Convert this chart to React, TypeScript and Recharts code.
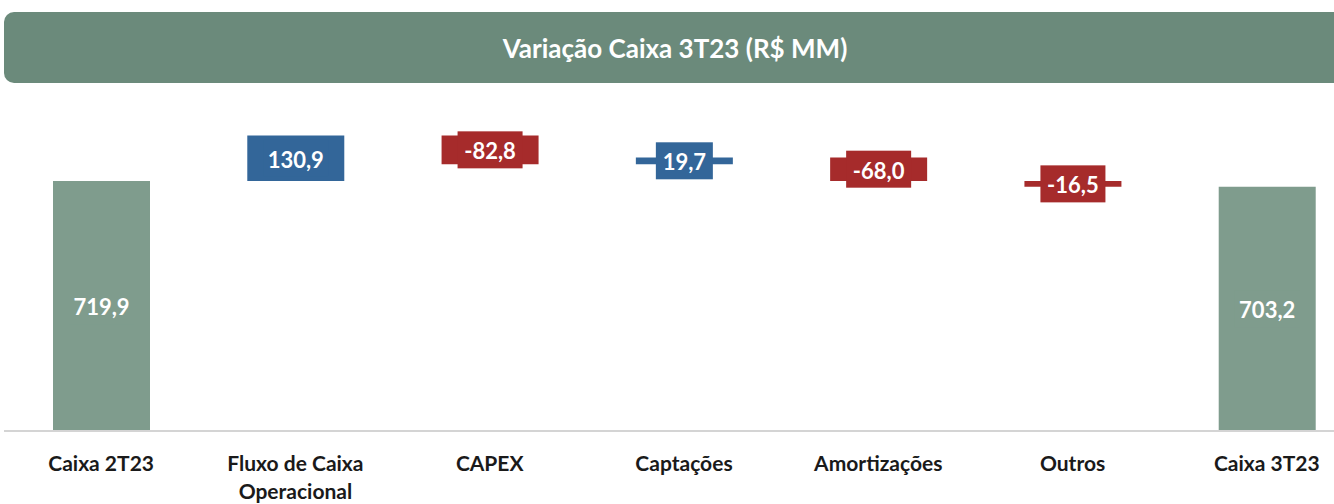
import { BarChart, Bar, XAxis, YAxis, Cell, LabelList } from 'recharts'

const categories = [
  'Caixa 2T23',
  'Fluxo de Caixa\nOperacional',
  'CAPEX',
  'Captações',
  'Amortizações',
  'Outros',
  'Caixa 3T23',
]
const values = [719.9, 130.9, -82.8, 19.7, -68.0, -16.5, 703.2]
const isTotal = [true, false, false, false, false, false, true]

const GREEN = '#7f9c8d'
const BLUE = '#336699'
const RED = '#a62b2b'
const FONT = 'Lato, "Open Sans", sans-serif'

let running = 0
const data = categories.map((name, i) => {
  const v = values[i]
  let range: [number, number]
  if (isTotal[i]) {
    range = [0, v]
    running = v
  } else {
    const next = running + v
    range = [Math.min(running, next), Math.max(running, next)]
    running = next
  }
  const color = isTotal[i] ? GREEN : v >= 0 ? BLUE : RED
  return { name, value: v, range, color }
})

const fmt = (v: number) => v.toFixed(1).replace('.', ',')

const ValueLabel = (props: any) => {
  const { x, y, width, height, index } = props
  const d = data[index]
  const top = Math.min(y, y + height)
  const cy = top + Math.abs(height) / 2
  const cx = x + width / 2
  const txt = fmt(d.value)
  const bw = 25 + 8 * txt.length
  const bh = 37
  return (
    <g>
      <rect x={cx - bw / 2} y={cy - bh / 2} width={bw} height={bh} fill={d.color} />
      <text
        x={cx}
        y={cy + 1}
        textAnchor="middle"
        dominantBaseline="central"
        fill="#ffffff"
        fontFamily={FONT}
        fontWeight={700}
        fontSize={22}
      >
        {txt}
      </text>
    </g>
  )
}

const CategoryTick = (props: any) => {
  const { x, y, payload } = props
  const lines = String(payload.value).split('\n')
  return (
    <g>
      {lines.map((ln, i) => (
        <text
          key={i}
          x={x}
          y={y + 32 + i * 28}
          textAnchor="middle"
          fill="#1a1a1a"
          fontFamily={FONT}
          fontWeight={700}
          fontSize={21}
        >
          {ln}
        </text>
      ))}
    </g>
  )
}

export default function App() {
  return (
    <div
      style={{
        position: 'fixed',
        left: 0,
        top: 0,
        width: 1334,
        height: 504,
        overflow: 'hidden',
        background: '#ffffff',
      }}
    >
      <div
        style={{
          position: 'absolute',
          left: 4,
          top: 12,
          width: 1342,
          height: 71,
          borderRadius: 10,
          background: '#6b8a7b',
          color: '#ffffff',
          fontFamily: FONT,
          fontWeight: 700,
          fontSize: 26,
          display: 'flex',
          alignItems: 'center',
          justifyContent: 'center',
        }}
      >
        Variação Caixa 3T23 (R$ MM)
      </div>
      <div style={{ position: 'absolute', left: 0, top: 0 }}>
        <BarChart
          width={1364}
          height={504}
          data={data}
          margin={{ top: 101, right: 0, bottom: 0, left: 4 }}
          barSize={97}
        >
          <XAxis
            dataKey="name"
            height={73}
            interval={0}
            tickLine={false}
            axisLine={{ stroke: '#d4d4d4', strokeWidth: 2 }}
            tick={<CategoryTick />}
          />
          <YAxis hide domain={[0, 950]} />
          <Bar dataKey="range" isAnimationActive={false}>
            {data.map((d, i) => (
              <Cell key={i} fill={d.color} />
            ))}
            <LabelList dataKey="value" content={<ValueLabel />} />
          </Bar>
        </BarChart>
      </div>
    </div>
  )
}
